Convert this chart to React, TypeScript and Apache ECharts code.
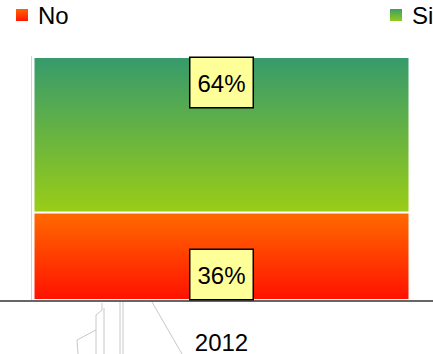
import React, { useEffect, useRef } from "react";
import * as echarts from "echarts";

const categories = ["2012"];
const noValues = [36];
const siValues = [64];
const seriesNames = ["No", "Si"];

export default function App() {
  const ref = useRef<HTMLDivElement>(null);
  useEffect(() => {
    const chart = echarts.init(ref.current!, null, { renderer: "svg" });
    const grey = { stroke: "#c8c8c8", lineWidth: 1, fill: null as any };
    const font = "Liberation Sans, Arial, sans-serif";
    const labelStyle = {
      show: true,
      formatter: "{c}%",
      fontFamily: font,
      fontSize: 24,
      color: "#000",
      backgroundColor: "#ffff99",
      borderColor: "#000",
      borderWidth: 1.5,
      padding: [13, 7, 12, 7],
      distance: 1,
    };
    const legendText = { fontSize: 24, color: "#000", fontFamily: font, padding: [0, 0, 0, 4] };
    chart.setOption({
      animation: false,
      legend: [
        {
          data: [seriesNames[0]],
          left: 9,
          top: -2,
          icon: "rect",
          itemWidth: 14,
          itemHeight: 14,
          textStyle: legendText,
        },
        {
          data: [seriesNames[1]],
          left: 383,
          top: -2,
          icon: "rect",
          itemWidth: 14,
          itemHeight: 14,
          textStyle: legendText,
        },
      ],
      grid: { left: 10, right: 0, top: 57, bottom: 54 },
      xAxis: {
        type: "category",
        data: categories,
        axisLine: { show: false },
        axisTick: { show: false },
        axisLabel: { fontSize: 24, color: "#000", margin: 30, fontFamily: font },
      },
      yAxis: { type: "value", min: 0, max: 100, show: false, splitLine: { show: false } },
      series: [
        {
          name: seriesNames[0],
          type: "bar",
          stack: "total",
          data: noValues,
          barWidth: 376,
          itemStyle: {
            color: new echarts.graphic.LinearGradient(0, 0, 0, 1, [
              { offset: 0, color: "#ff6a00" },
              { offset: 1, color: "#ff1200" },
            ]),
            borderColor: "#fff",
            borderWidth: 1,
          },
          label: { ...labelStyle, position: "insideBottom" },
        },
        {
          name: seriesNames[1],
          type: "bar",
          stack: "total",
          data: siValues,
          barWidth: 376,
          itemStyle: {
            color: new echarts.graphic.LinearGradient(0, 0, 0, 1, [
              { offset: 0, color: "#369a6c" },
              { offset: 1, color: "#9acd16" },
            ]),
            borderColor: "#fff",
            borderWidth: 1,
          },
          label: { ...labelStyle, position: "insideTop" },
        },
      ],
      graphic: [
        { type: "line", shape: { x1: 0, y1: 301, x2: 433, y2: 301 }, style: { stroke: "#333", lineWidth: 1.5 } },
        { type: "line", shape: { x1: 31.5, y1: 56, x2: 31.5, y2: 300 }, style: { stroke: "#f0c8c0", lineWidth: 1 } },
        { type: "polyline", shape: { points: [[152, 302], [182, 354]] }, style: grey },
        { type: "polyline", shape: { points: [[120, 302], [120, 354]] }, style: grey },
        { type: "polyline", shape: { points: [[123, 302], [123, 354]] }, style: grey },
        { type: "polyline", shape: { points: [[102, 303], [102, 310], [96, 315], [96, 354]] }, style: grey },
        { type: "polyline", shape: { points: [[104, 308], [104, 354]] }, style: grey },
        { type: "polyline", shape: { points: [[96, 330], [77, 340], [78, 354]] }, style: grey },
      ],
    });
    return () => chart.dispose();
  }, []);
  return (
    <div
      ref={ref}
      style={{ position: "fixed", left: 0, top: 0, width: 433, height: 354, background: "#fff" }}
    />
  );
}
